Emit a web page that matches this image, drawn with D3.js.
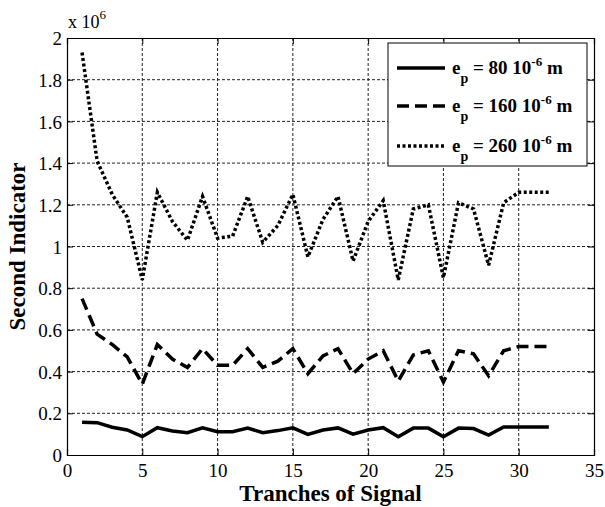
<!DOCTYPE html>
<html>
<head>
<meta charset="utf-8">
<script src="https://cdn.jsdelivr.net/npm/d3@7"></script>
<style>
  body { margin: 0; background: #fff; }
  svg text { font-family: "Liberation Serif", "Times New Roman", serif; }
</style>
</head>
<body>
<div id="chart"></div>
<script>
const tranches = d3.range(1, 33)
const ep80 = [0.157, 0.155, 0.133, 0.12, 0.088, 0.131, 0.115, 0.107, 0.13, 0.112,
  0.112, 0.129, 0.107, 0.117, 0.13, 0.099, 0.12, 0.13, 0.10, 0.12,
  0.131, 0.088, 0.129, 0.129, 0.088, 0.129, 0.127, 0.096, 0.134, 0.134, 0.134, 0.134]
const ep160 = [0.75, 0.58, 0.53, 0.47, 0.34, 0.53, 0.46, 0.42, 0.51, 0.43,
  0.43, 0.51, 0.42, 0.45, 0.51, 0.39, 0.475, 0.51, 0.39, 0.46,
  0.50, 0.355, 0.48, 0.50, 0.35, 0.50, 0.485, 0.38, 0.50, 0.52, 0.52, 0.52]
const ep260 = [1.93, 1.41, 1.25, 1.14, 0.84, 1.26, 1.12, 1.03, 1.24, 1.04,
  1.05, 1.24, 1.02, 1.10, 1.25, 0.95, 1.13, 1.24, 0.93, 1.12,
  1.22, 0.84, 1.18, 1.20, 0.85, 1.21, 1.18, 0.91, 1.21, 1.26, 1.26, 1.26]
const xTicks = [0, 5, 10, 15, 20, 25, 30, 35]
const yTicks = [0, 0.2, 0.4, 0.6, 0.8, 1, 1.2, 1.4, 1.6, 1.8, 2]
const seriesNames = ["80", "160", "260"]

const W = 605, H = 507
const L = 67, R = 594, T = 38, B = 455
const serif = '"Liberation Serif", "Times New Roman", serif'

const svg = d3.select("#chart").append("svg")
  .attr("width", W).attr("height", H)

const x = d3.scaleLinear().domain([0, 35]).range([L, R])
const y = d3.scaleLinear().domain([0, 2]).range([B, T])

// grid
svg.append("g").selectAll("line").data(xTicks.slice(1, -1)).join("line")
  .attr("x1", d => x(d)).attr("x2", d => x(d)).attr("y1", T).attr("y2", B)
  .attr("stroke", "#222").attr("stroke-width", 1).attr("stroke-dasharray", "3,2")
svg.append("g").selectAll("line").data(yTicks.slice(1, -1)).join("line")
  .attr("x1", L).attr("x2", R).attr("y1", d => y(d)).attr("y2", d => y(d))
  .attr("stroke", "#222").attr("stroke-width", 1).attr("stroke-dasharray", "3,2")

// axes, ticks inward
const xAxis = d3.axisBottom(x).tickValues(xTicks).tickSize(-6).tickPadding(9).tickFormat(d3.format("d"))
const yAxis = d3.axisLeft(y).tickValues(yTicks).tickSize(-6).tickPadding(5).tickFormat(d => String(d))
const gx = svg.append("g").attr("transform", `translate(0,${B})`).call(xAxis)
const gy = svg.append("g").attr("transform", `translate(${L},0)`).call(yAxis)
svg.append("g").attr("transform", `translate(0,${T})`)
  .call(d3.axisTop(x).tickValues(xTicks).tickSize(-6).tickFormat(""))
svg.append("g").attr("transform", `translate(${R},0)`)
  .call(d3.axisRight(y).tickValues(yTicks).tickSize(-6).tickFormat(""))
svg.selectAll(".domain").attr("stroke", "#000").attr("stroke-width", 1.2)
svg.selectAll(".tick line").attr("stroke", "#000")
gx.attr("font-family", serif).attr("font-size", 19)
gy.attr("font-family", serif).attr("font-size", 19)
gx.selectAll("text").style("font-family", serif).style("font-size", "19px")
gy.selectAll("text").style("font-family", serif).style("font-size", "19px").attr("dy", "0.35em")

// exponent
const ex = svg.append("text").attr("x", L + 1).attr("y", 28).attr("font-size", 18)
ex.append("tspan").text("x 10")
ex.append("tspan").attr("dy", -9).attr("font-size", 13).text("6")

// series
const styles = [
  { data: ep80, dash: null },
  { data: ep160, dash: "12,6" },
  { data: ep260, dash: "3,2.5" }
]
const line = d3.line().x((d, i) => x(tranches[i])).y(d => y(d))
svg.append("g").selectAll("path").data(styles).join("path")
  .attr("d", d => line(d.data))
  .attr("fill", "none").attr("stroke", "#000").attr("stroke-width", 3.5)
  .attr("stroke-dasharray", d => d.dash)

// legend
const lg = svg.append("g")
lg.append("rect").attr("x", 388).attr("y", 43).attr("width", 199).attr("height", 123)
  .attr("fill", "#fff").attr("stroke", "#000").attr("stroke-width", 1)
const rowY = [68, 106, 146]
styles.forEach((s, i) => {
  lg.append("line").attr("x1", 397).attr("x2", 445).attr("y1", rowY[i]).attr("y2", rowY[i])
    .attr("stroke", "#000").attr("stroke-width", 3.5).attr("stroke-dasharray", s.dash)
  const t = lg.append("text").attr("x", 452).attr("y", rowY[i] + 6)
    .attr("font-size", 19).attr("font-weight", "bold")
  t.append("tspan").text("e")
  t.append("tspan").attr("dy", 9).attr("font-size", 14).text("p")
  t.append("tspan").attr("dy", -9).text(" = " + seriesNames[i] + " 10")
  t.append("tspan").attr("dy", -8).attr("font-size", 13).text("-6")
  t.append("tspan").attr("dy", 8).text(" m")
})

// axis titles
svg.append("text").attr("x", (L + R) / 2).attr("y", 501).attr("text-anchor", "middle")
  .attr("font-size", 23).attr("font-weight", "bold").text("Tranches of Signal")
svg.append("text").attr("transform", `translate(25,${(T + B) / 2}) rotate(-90)`)
  .attr("text-anchor", "middle").attr("font-size", 23).attr("font-weight", "bold")
  .text("Second Indicator")
</script>
</body>
</html>
